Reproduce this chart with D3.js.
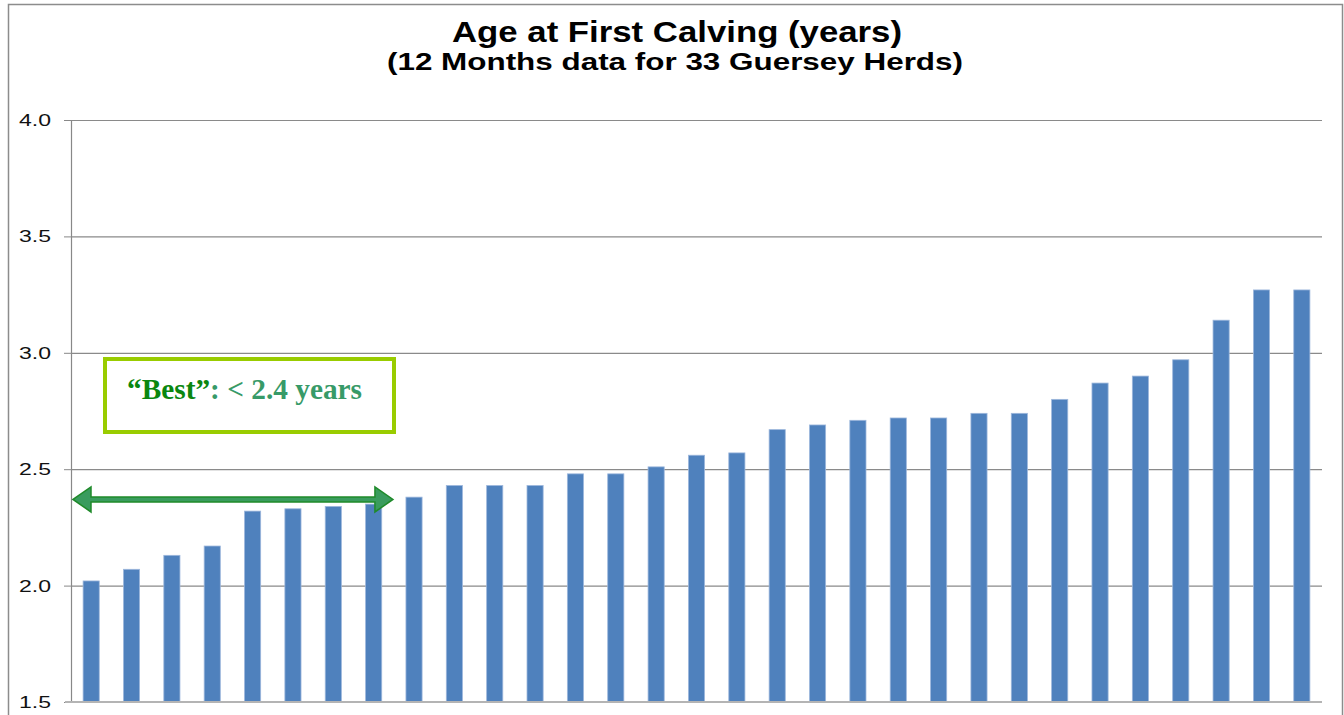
<!DOCTYPE html>
<html>
<head>
<meta charset="utf-8">
<script src="https://cdn.jsdelivr.net/npm/d3@7"></script>
<style>
  html, body { margin: 0; padding: 0; background: #fff; overflow: hidden; }
  svg { display: block; }
</style>
</head>
<body>
<svg id="chart"></svg>
<script>
// One bar per herd, sorted ascending (years)
const herds = d3.range(1, 32).map(i => "Herd " + i);
const ages = [2.02, 2.07, 2.13, 2.17, 2.32, 2.33, 2.34, 2.35, 2.38, 2.43, 2.43, 2.43,
              2.48, 2.48, 2.51, 2.56, 2.57, 2.67, 2.69, 2.71, 2.72, 2.72, 2.74, 2.74,
              2.80, 2.87, 2.90, 2.97, 3.14, 3.27, 3.27];
const yTicks = [1.5, 2.0, 2.5, 3.0, 3.5, 4.0];
const yDomain = [1.5, 4.0];
const titleText = "Age at First Calving (years)";
const subtitleText = "(12 Months data for 33 Guersey Herds)";
const bestValue = 2.37;     // arrow level
const bestLastHerd = 8;     // arrow spans herds up to here (0-based index)

const width = 1344, height = 715;
const margin = {top: 120, right: 22, bottom: 13, left: 71};

const svg = d3.select("#chart").attr("width", width).attr("height", height);

// outer chart frame
svg.append("rect")
  .attr("x", 8.5).attr("y", 4.5)
  .attr("width", 1334).attr("height", 740)
  .attr("fill", "none").attr("stroke", "#8c8c8c").attr("stroke-width", 1.5);

const xScale = d3.scaleBand()
  .domain(herds)
  .range([margin.left, width - margin.right])
  .paddingInner(0.6)
  .paddingOuter(0.3);

const yScale = d3.scaleLinear()
  .domain(yDomain)
  .range([height - margin.bottom, margin.top]);

// gridlines + y labels
const yAxis = g => g
  .attr("transform", `translate(${margin.left},0)`)
  .call(d3.axisLeft(yScale).tickValues(yTicks).tickFormat(d3.format(".1f")).tickSize(7).tickPadding(13))
  .call(g => g.select(".domain").attr("stroke", "#888").attr("stroke-width", 1.2))
  .call(g => g.selectAll(".tick line").attr("stroke", "#888"))
  .call(g => g.selectAll(".tick line").clone()
      .attr("x1", 0)
      .attr("x2", width - margin.left - margin.right)
      .attr("stroke", "#8a8a8a")
      .attr("stroke-width", 1.2))
  .call(g => g.selectAll(".tick text")
      .attr("font-family", "Liberation Sans, Arial, sans-serif")
      .attr("font-size", 17)
      .attr("fill", "#111")
      .attr("textLength", 32)
      .attr("lengthAdjust", "spacingAndGlyphs"));

svg.append("g").call(yAxis);

// bars
svg.append("g")
  .selectAll("rect")
  .data(ages)
  .join("rect")
  .attr("x", (d, i) => xScale(herds[i]))
  .attr("y", d => yScale(d))
  .attr("width", xScale.bandwidth())
  .attr("height", d => yScale(yDomain[0]) - yScale(d))
  .attr("fill", "#4f81bd")
  .attr("stroke", "#9db7dc")
  .attr("stroke-width", 0.8);

// category axis line
svg.append("line")
  .attr("x1", margin.left - 6).attr("x2", width - margin.right)
  .attr("y1", yScale(yDomain[0])).attr("y2", yScale(yDomain[0]))
  .attr("stroke", "#b4b4b4").attr("stroke-width", 2);

// titles
svg.append("text")
  .attr("x", 677).attr("y", 42)
  .attr("text-anchor", "middle")
  .attr("font-family", "Liberation Sans, Arial, sans-serif")
  .attr("font-weight", "bold")
  .attr("font-size", 29)
  .attr("textLength", 450)
  .attr("lengthAdjust", "spacingAndGlyphs")
  .text(titleText);

svg.append("text")
  .attr("x", 675).attr("y", 70)
  .attr("text-anchor", "middle")
  .attr("font-family", "Liberation Sans, Arial, sans-serif")
  .attr("font-weight", "bold")
  .attr("font-size", 23)
  .attr("textLength", 576)
  .attr("lengthAdjust", "spacingAndGlyphs")
  .text(subtitleText);

// "Best" box
svg.append("rect")
  .attr("x", 105).attr("y", 359)
  .attr("width", 289).attr("height", 73)
  .attr("fill", "#fff").attr("stroke", "#99cc00").attr("stroke-width", 4);

const best = svg.append("text")
  .attr("x", 127).attr("y", 399)
  .attr("font-family", "Liberation Serif, Times New Roman, serif")
  .attr("font-weight", "bold")
  .attr("font-size", 29)
  .attr("textLength", 235)
  .attr("lengthAdjust", "spacingAndGlyphs");
best.append("tspan").attr("fill", "#0a870f").text("\u201cBest\u201d");
best.append("tspan").attr("fill", "#379a68").text(": < 2.4 years");

// double headed arrow
const ay = yScale(bestValue);
const ax0 = margin.left + 2;
const ax1 = xScale(herds[bestLastHerd]) - 13;
const headL = 18, headH = 12.5, shaft = 2.5;
const arrowPts = [
  [ax0, ay], [ax0 + headL, ay - headH], [ax0 + headL, ay - shaft],
  [ax1 - headL, ay - shaft], [ax1 - headL, ay - headH], [ax1, ay],
  [ax1 - headL, ay + headH], [ax1 - headL, ay + shaft],
  [ax0 + headL, ay + shaft], [ax0 + headL, ay + headH]
];
svg.append("polygon")
  .attr("points", arrowPts.map(p => p.join(",")).join(" "))
  .attr("fill", "#3a9c5e")
  .attr("stroke", "#1f8a2a")
  .attr("stroke-width", 1.5)
  .attr("stroke-linejoin", "miter");
</script>
</body>
</html>
